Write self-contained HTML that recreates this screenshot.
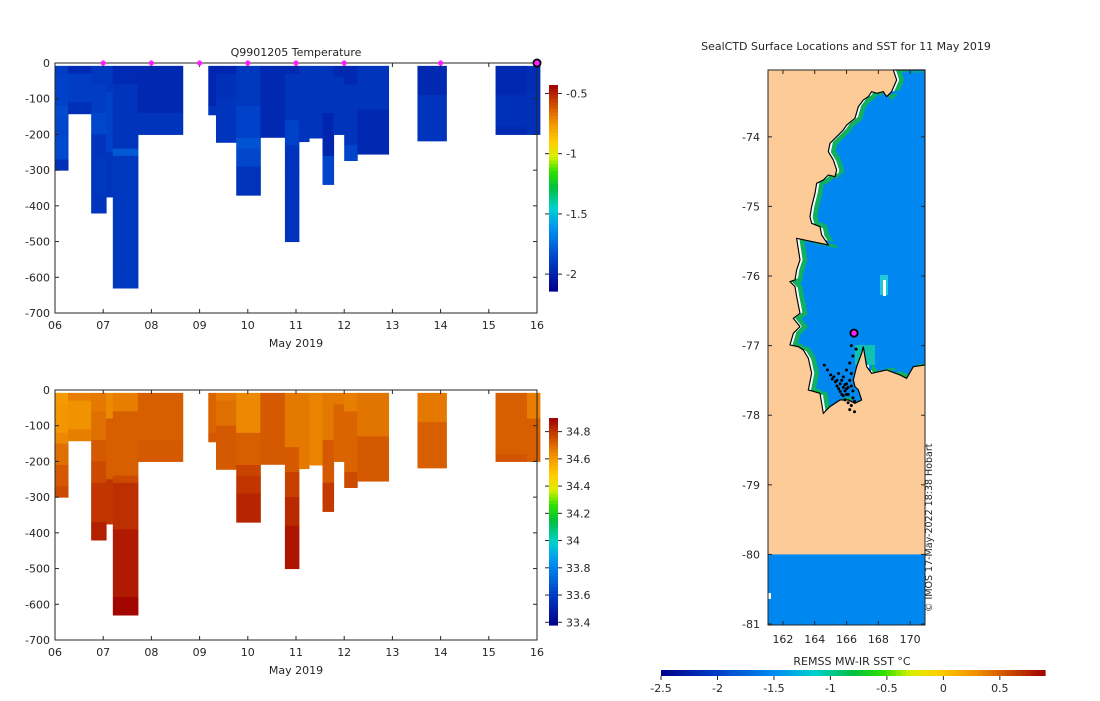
<!DOCTYPE html>
<html><head><meta charset="utf-8"><style>
body{margin:0;background:#fff;width:1100px;height:696px;overflow:hidden}
svg{font-family:"DejaVu Sans","Liberation Sans",sans-serif;font-size:11px;fill:#262626}
</style></head><body>
<svg id="s" width="1100" height="696"></svg>
<script>
// ---- data ----
const colStart=[6.0,6.27,6.75,7.06,7.2,7.72,9.18,9.34,9.76,10.26,10.77,11.06,11.27,11.55,11.78,12.0,12.27,13.52,15.14,15.79];
const colEnd=[6.27,6.75,7.06,7.2,7.72,8.65,9.34,9.76,10.26,10.77,11.06,11.27,11.55,11.78,12.0,12.27,12.92,14.12,15.79,16.06];
// segments per profile: [bottomDepth, temperature, salinity]
const colSegs=[
[[40,-1.9,34.6],[120,-1.88,34.61],[150,-1.85,34.64],[210,-1.86,34.69],[270,-1.85,34.73],[300,-1.95,34.76]],
[[30,-1.97,34.66],[110,-1.9,34.62],[142,-1.95,34.66]],
[[60,-1.92,34.67],[140,-1.9,34.69],[200,-1.86,34.73],[260,-1.93,34.76],[370,-1.92,34.8],[420,-1.93,34.84]],
[[80,-1.92,34.64],[250,-1.88,34.72],[375,-1.93,34.8]],
[[60,-1.97,34.66],[240,-1.93,34.72],[260,-1.8,34.76],[390,-1.92,34.81],[580,-1.92,34.85],[630,-1.92,34.89]],
[[140,-1.98,34.72],[200,-1.93,34.73]],
[[120,-1.99,34.71],[145,-1.94,34.73]],
[[30,-1.99,34.67],[100,-1.95,34.69],[222,-1.93,34.73]],
[[120,-1.92,34.64],[210,-1.88,34.72],[240,-1.82,34.77],[290,-1.86,34.8],[370,-1.94,34.83]],
[[208,-1.98,34.73]],
[[30,-1.98,34.67],[160,-1.93,34.67],[230,-1.88,34.73],[300,-1.93,34.78],[380,-1.93,34.82],[500,-1.93,34.86]],
[[220,-1.93,34.67]],
[[210,-1.93,34.65]],
[[140,-1.93,34.67],[260,-1.99,34.73],[340,-1.87,34.79]],
[[40,-1.98,34.67],[200,-1.93,34.71]],
[[60,-1.98,34.66],[230,-1.93,34.71],[273,-1.87,34.76]],
[[130,-1.93,34.68],[255,-1.98,34.73]],
[[90,-1.98,34.67],[218,-1.93,34.72]],
[[90,-1.98,34.72],[180,-1.95,34.72],[200,-1.98,34.74]],
[[10,-1.88,34.64],[80,-1.96,34.66],[200,-1.95,34.72]]];
const surfDays=[7,8,9,10,11,12,14];
const xTicks=['06','07','08','09','10','11','12','13','14','15','16'];
const yTicks=[0,-100,-200,-300,-400,-500,-600,-700];
const tTicks=[-0.5,-1,-1.5,-2];
const sTicks=[34.8,34.6,34.4,34.2,34,33.8,33.6,33.4];
const sstTicks=[-2.5,-2,-1.5,-1,-0.5,0,0.5];
const lonTicks=[162,164,166,168,170];
const latTicks=[-74,-75,-76,-77,-78,-79,-80,-81];
const dotLon=[164.6,164.8,165.0,165.2,165.4,165.6,165.8,165.9,166.0,166.1,166.2,166.3,165.3,165.5,165.7,165.9,166.1,166.3,166.4,166.5,165.8,166.0,166.2,166.4,166.6,166.3,166.5,166.2,166.0,166.4,165.1,165.4,165.6,165.8,166.0,165.7,165.9,166.1,165.5,166.3];
const dotLat=[-77.28,-77.35,-77.42,-77.45,-77.5,-77.55,-77.6,-77.65,-77.7,-77.6,-77.5,-77.4,-77.52,-77.62,-77.7,-77.78,-77.82,-77.86,-77.75,-77.8,-77.45,-77.35,-77.25,-77.15,-77.05,-77.0,-77.95,-77.92,-77.55,-77.65,-77.48,-77.58,-77.66,-77.72,-77.62,-77.5,-77.56,-77.7,-77.4,-77.58];
const lastLon=166.47, lastLat=-76.82;

const S=document.getElementById('s');const NS='http://www.w3.org/2000/svg';
function mk(t,a,p){const e=document.createElementNS(NS,t);for(const k in a)e.setAttribute(k,a[k]);(p||S).appendChild(e);return e;}
const stops=[[0,'#00008a'],[0.15,'#0040c8'],[0.3,'#0090f0'],[0.4,'#00d0d0'],[0.5,'#00c040'],[0.58,'#30e000'],[0.65,'#d8f000'],[0.72,'#ffd000'],[0.82,'#f09000'],[0.9,'#d05000'],[1,'#a00000']];
function hx(c){return [1,3,5].map(i=>parseInt(c.substr(i,2),16));}
function cmap(f){f=Math.max(0,Math.min(1,f));for(let i=1;i<stops.length;i++){if(f<=stops[i][0]){const a=stops[i-1],b=stops[i];const t=(f-a[0])/(b[0]-a[0]);const A=hx(a[1]),B=hx(b[1]);return 'rgb('+A.map((v,j)=>Math.round(v+(B[j]-v)*t)).join(',')+')';}}return stops[stops.length-1][1];}

function panel(y0,idx,vmin,vmax,cbTop,cbBot,ticks,name,title){
  const x0=55,x1=537,h=250;
  const xs=d=>x0+(d-6)*(x1-x0)/10, ys=v=>y0+v*h/700;
  const g=mk('g',{});
  colStart.forEach((s,i)=>{let top=8;colSegs[i].forEach(sg=>{const r=mk('rect',{x:xs(s),y:ys(top),width:xs(colEnd[i])-xs(s)+0.5,height:ys(sg[0])-ys(top)+0.5,fill:cmap((sg[idx]-vmin)/(vmax-vmin))},g);top=sg[0];});});
  mk('rect',{x:x0,y:y0,width:x1-x0,height:h,fill:'none',stroke:'#262626','stroke-width':1},g);
  xTicks.forEach((t,i)=>{const x=xs(6+i);mk('line',{x1:x,x2:x,y1:y0+h,y2:y0+h-4,stroke:'#262626'},g);mk('line',{x1:x,x2:x,y1:y0,y2:y0+4,stroke:'#262626'},g);const e=mk('text',{x:x,y:y0+h+16,'text-anchor':'middle'},g);e.textContent=t;});
  yTicks.forEach(v=>{const y=ys(-v);mk('line',{x1:x0,x2:x0+4,y1:y,y2:y,stroke:'#262626'},g);mk('line',{x1:x1,x2:x1-4,y1:y,y2:y,stroke:'#262626'},g);const e=mk('text',{x:x0-5,y:y+4,'text-anchor':'end'},g);e.textContent=v;});
  const xl=mk('text',{x:296,y:y0+h+34,'text-anchor':'middle'},g);xl.textContent='May 2019';
  if(title){const t=mk('text',{x:296,y:y0-7,'text-anchor':'middle'},g);t.textContent=title;}
  const cb=mk('g',{});
  const n=60;for(let i=0;i<n;i++){mk('rect',{x:549,y:cbTop+(cbBot-cbTop)*i/n,width:9,height:(cbBot-cbTop)/n+0.6,fill:cmap(1-(i+0.5)/n)},cb);}
  const cy=v=>cbBot-(v-vmin)/(vmax-vmin)*(cbBot-cbTop);
  ticks.forEach(v=>{const y=cy(v);mk('line',{x1:545,x2:549,y1:y,y2:y,stroke:'#262626'},cb);mk('line',{x1:558,x2:562,y1:y,y2:y,stroke:'#262626'},cb);const e=mk('text',{x:566,y:y+4},cb);e.textContent=v;});
  return {xs,ys};
}
const P=panel(63,1,-2.14,-0.43,85,291,tTicks,'temperature-section','Q9901205  Temperature');
panel(390,2,33.38,34.9,418,625,sTicks,'salinity-section',null);
surfDays.forEach(d=>{const c=mk('circle',{cx:P.xs(d),cy:63,r:2.6,fill:'#ff20ff'});});
{const c=mk('circle',{cx:P.xs(16),cy:63,r:3.6,fill:'#ff20ff',stroke:'#000','stroke-width':1.8});}

// ---- map ----
const mx0=768,mx1=925,my0=70,my1=625;
const lx=l=>mx0+(l-161.06)*15.9, ly=l=>my0+(-73.04-l)*69.6;
const mt=mk('text',{x:846,y:50,'text-anchor':'middle'});mt.textContent='SealCTD Surface Locations and SST for 11 May 2019';
const mg=mk('g',{});
mk('rect',{x:mx0,y:my0,width:mx1-mx0,height:my1-my0,fill:'#fccb98'},mg);
const coast='M460,30 L470,60 L455,95 L440,110 L430,95 L410,100 L395,95 L385,110 L370,120 L355,140 L345,175 L320,195 L310,210 L290,230 L270,250 L265,275 L280,300 L290,330 L285,350 L265,345 L250,360 L230,370 L225,400 L215,440 L210,470 L215,490 L240,500 L245,525 L265,555 L170,535 L180,600 L170,630 L165,660 L150,665 L165,680 L170,710 L180,760 L160,775 L180,800 L160,820 L150,855 L175,860 L190,870 L205,895 L215,940 L205,990 L240,1000 L250,1060 L270,1040 L300,1020 L325,1020 L345,1030 L365,1020 L355,990 L345,980 L340,960 L350,920 L365,880 L370,860 L380,920 L395,940 L440,930 L480,945 L500,955 L520,920 L555,915 L555,30 Z';
const defs=mk('defs',{});const cp=mk('clipPath',{id:'oc'},defs);mk('path',{d:coast,transform:'translate(740,60) scale(0.3333)'},cp);
mk('path',{d:coast,fill:'#fff',transform:'translate(740,60) scale(0.3333)'},mg);
const cg=mk('g',{'clip-path':'url(#oc)'},mg);
mk('path',{d:coast,fill:'#0088f0',stroke:'#10b060','stroke-width':14,transform:'translate(745,60) scale(0.3333)'},cg);
mk('path',{d:coast,fill:'none',stroke:'#0088f0','stroke-width':8,transform:'translate(754,60) scale(0.3333)'},cg);
mk('rect',{x:880,y:275,width:8,height:20,fill:'#20c8d8'},cg);mk('rect',{x:883,y:280,width:3,height:16,fill:'#fff'},cg);
mk('rect',{x:855,y:345,width:20,height:20,fill:'#10c0b0'},cg);
mk('path',{d:coast,fill:'none',stroke:'#000','stroke-width':3.5,transform:'translate(740,60) scale(0.3333)'},mg);
mk('rect',{x:mx0,y:ly(-80),width:mx1-mx0,height:my1-ly(-80),fill:'#0088f0'},mg);
mk('rect',{x:mx0,y:593,width:3,height:6,fill:'#fff'},mg);
dotLon.forEach((l,i)=>{const c=mk('circle',{cx:lx(l),cy:ly(dotLat[i]),r:1.5,fill:'#000'},mg);});
{const c=mk('circle',{cx:lx(lastLon),cy:ly(lastLat),r:3.6,fill:'#ff20ff',stroke:'#000','stroke-width':1.8},mg);}
mk('rect',{x:mx0,y:my0,width:mx1-mx0,height:my1-my0,fill:'none',stroke:'#262626'},mg);
lonTicks.forEach(l=>{const x=lx(l);mk('line',{x1:x,x2:x,y1:my1,y2:my1-4,stroke:'#262626'},mg);mk('line',{x1:x,x2:x,y1:my0,y2:my0+4,stroke:'#262626'},mg);const e=mk('text',{x:x,y:my1+18,'text-anchor':'middle'},mg);e.textContent=l;});
latTicks.forEach(l=>{const y=ly(l);mk('line',{x1:mx0,x2:mx0+4,y1:y,y2:y,stroke:'#262626'},mg);mk('line',{x1:mx1,x2:mx1-4,y1:y,y2:y,stroke:'#262626'},mg);const e=mk('text',{x:mx0-8,y:y+4,'text-anchor':'end'},mg);e.textContent=l;});
const cr=mk('text',{x:0,y:0,transform:'translate(932,612) rotate(-90)','font-size':'9.5'});cr.textContent='© IMOS 17-May-2022 18:38 Hobart';
const sg=mk('g',{});
const bx0=661,bx1=1045,smin=-2.5,smax=0.9;
for(let i=0;i<80;i++){mk('rect',{x:bx0+(bx1-bx0)*i/80,y:670,width:(bx1-bx0)/80+0.6,height:6,fill:cmap((i+0.5)/80)},sg);}
sstTicks.forEach(v=>{const x=bx0+(v-smin)/(smax-smin)*(bx1-bx0);mk('line',{x1:x,x2:x,y1:676,y2:680,stroke:'#262626'},sg);const e=mk('text',{x:x,y:692,'text-anchor':'middle'},sg);e.textContent=v;});
const st=mk('text',{x:852,y:665,'text-anchor':'middle'},sg);st.textContent='REMSS MW-IR SST °C';
</script>
</body></html>
